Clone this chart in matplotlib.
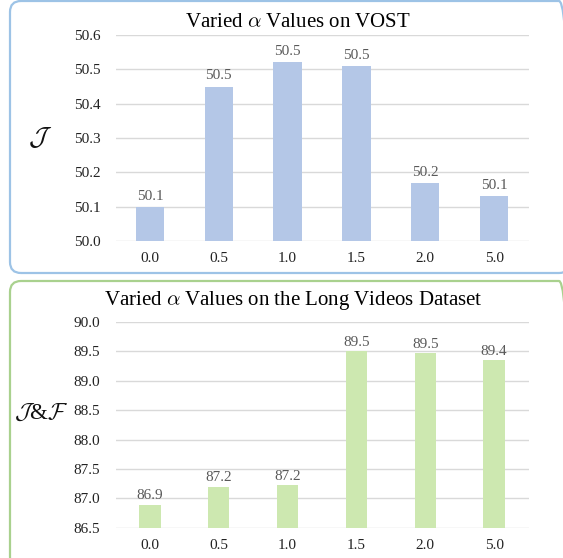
import matplotlib
matplotlib.use("Agg")
import matplotlib.pyplot as plt
from matplotlib.patches import FancyBboxPatch
from matplotlib.transforms import IdentityTransform

plt.rcParams['mathtext.fontset'] = 'cm'
plt.rcParams['font.family'] = ['Liberation Serif', 'DejaVu Serif']

categories = ["0.0", "0.5", "1.0", "1.5", "2.0", "5.0"]
vost_values = [50.10, 50.45, 50.52, 50.51, 50.17, 50.13]
vost_labels = ["50.1", "50.5", "50.5", "50.5", "50.2", "50.1"]
vost_ticks = [50.0, 50.1, 50.2, 50.3, 50.4, 50.5, 50.6]
long_values = [86.89, 87.20, 87.22, 89.50, 89.47, 89.35]
long_labels = ["86.9", "87.2", "87.2", "89.5", "89.5", "89.4"]
long_ticks = [86.5, 87.0, 87.5, 88.0, 88.5, 89.0, 89.5, 90.0]

W, H = 563, 558
fig = plt.figure(figsize=(W / 100, H / 100), dpi=100)

# rounded panel borders (display pixel coordinates)
box1 = FancyBboxPatch((10, H - 273), 560, 272, boxstyle="round,pad=0,rounding_size=11",
                      transform=IdentityTransform(), fill=False, edgecolor="#9DC3E6", linewidth=1.6)
box2 = FancyBboxPatch((10, -10), 560, H - 281 + 10, boxstyle="round,pad=0,rounding_size=11",
                      transform=IdentityTransform(), fill=False, edgecolor="#A9D18E", linewidth=1.6)
fig.patches.extend([box1, box2])

def panel(rect, values, labels, ticks, color, width, title, title_x, title_pad,
          ylabel, ylabel_xy, ylabel_size, offset):
    ax = fig.add_axes(rect)
    x = list(range(len(categories)))
    ax.bar(x, [v - ticks[0] for v in values], bottom=ticks[0], width=width, color=color, zorder=3)
    for xi, v, lab in zip(x, values, labels):
        ax.text(xi, v + offset, lab, ha="center", va="bottom", fontsize=11, color="#595959")
    ax.set_xlim(-0.5, len(categories) - 0.5)
    ax.set_ylim(ticks[0], ticks[-1])
    ax.set_yticks(ticks)
    ax.set_yticklabels([f"{t:.1f}" for t in ticks])
    ax.set_xticks(x)
    ax.set_xticklabels(categories)
    ax.tick_params(axis="y", length=0, pad=11, labelsize=11, labelcolor="#222222")
    ax.tick_params(axis="x", length=0, pad=8, labelsize=11, labelcolor="#222222")
    ax.grid(axis="y", color="#D9D9D9", linewidth=1, zorder=0)
    for s in ax.spines.values():
        s.set_visible(False)
    ax.set_title(title, fontsize=15, color="#000000", pad=title_pad, x=title_x)
    fig.text(ylabel_xy[0] / W, 1 - ylabel_xy[1] / H, ylabel, fontsize=ylabel_size,
             ha="center", va="center", color="#111111")
    return ax

panel([115.5 / W, 1 - 241 / H, 413 / W, 206 / H], vost_values, vost_labels, vost_ticks,
      "#B4C7E7", 0.41, r"Varied $\alpha$ Values on VOST", 0.442, 6,
      r"$\mathcal{J}$", (40, 138), 19, 0.012)
panel([115.5 / W, 1 - 527.7 / H, 413 / W, 205.7 / H], long_values, long_labels, long_ticks,
      "#CDE8B0", 0.31, r"Varied $\alpha$ Values on the Long Videos Dataset", 0.430, 12,
      r"$\mathcal{J}$&$\mathcal{F}$", (41, 413), 16.5, 0.04)

fig.savefig("out.png", dpi=100)
